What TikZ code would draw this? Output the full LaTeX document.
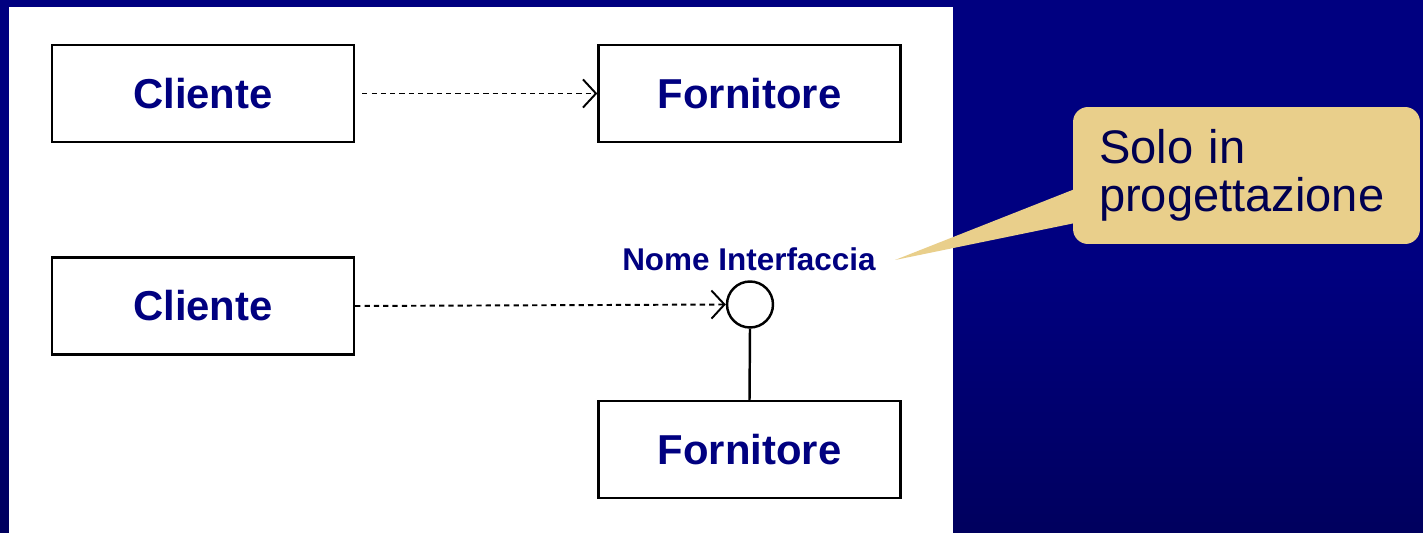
\documentclass[tikz,border=0pt]{standalone}
\usepackage{fontspec}
\setmainfont{Liberation Sans}
\usetikzlibrary{arrows.meta, positioning, calc}
\tikzset{>=stealth}
\definecolor{slidebg}{HTML}{000080}
\definecolor{slidebot}{HTML}{00005E}
\definecolor{umlblue}{HTML}{000080}
\definecolor{notefill}{HTML}{E9CF8B}
\definecolor{notetext}{HTML}{000050}
\tikzset{
  classbox/.style={draw, line width=1.4pt, fill=white, minimum width=6.04cm, minimum height=1.94cm,
    font=\fontsize{23.8}{28}\selectfont\bfseries, text=umlblue},
  dep/.style={line width=1.1pt, dash pattern=on 3pt off 2.3pt, -{Straight Barb[length=7.4pt, width=16pt, line width=1.1pt]}},
  lollipop/.style={draw, circle, line width=1.4pt, minimum size=0.92cm, inner sep=0pt},
  note/.style={fill=notefill, rounded corners=0.3cm, minimum width=6.94cm, minimum height=2.74cm,
    text width=5.9cm, align=left, text=notetext, font=\fontsize{26.8}{27.6}\selectfont}
}
\begin{document}
\begin{tikzpicture}[x=0.02cm, y=-0.02cm]
  \useasboundingbox (0,0) rectangle (1423,533);
  \shade[top color=slidebg, bottom color=slidebot, middle color=slidebg] (0,0) rectangle (1423,533);
  \fill[white] (9,7) rectangle (953,533);

  \node[classbox] (cli1) at (203,93.5) {Cliente};
  \node[classbox] (for1) at (749.5,93.5) {Fornitore};
  \draw[dep] ([xshift=0.14cm]cli1.east) -- (for1.west);

  \node[classbox] (cli2) at (203,306) {Cliente};
  \node[lollipop] (iface) at (750,304.5) {};
  \node[font=\fontsize{17.9}{20}\selectfont\bfseries, text=umlblue] (ifname) at (749,259) {Nome Interfaccia};
  \node[classbox] (for2) at (749.5,449.5) {Fornitore};
  \draw[dep] (cli2.east) -- (iface.west);
  \draw[line width=1.4pt] (iface.south) -- (for2.north);

  \node[note] (callout) at (1246.5,175.5) {Solo in\\progettazione};
  \coordinate (tip) at (895,260);
  \coordinate (baseA) at (1080,187);
  \coordinate (baseB) at (1080,222);
  \fill[notefill] (baseA) -- (tip) -- (baseB) -- cycle;
\end{tikzpicture}
\end{document}
